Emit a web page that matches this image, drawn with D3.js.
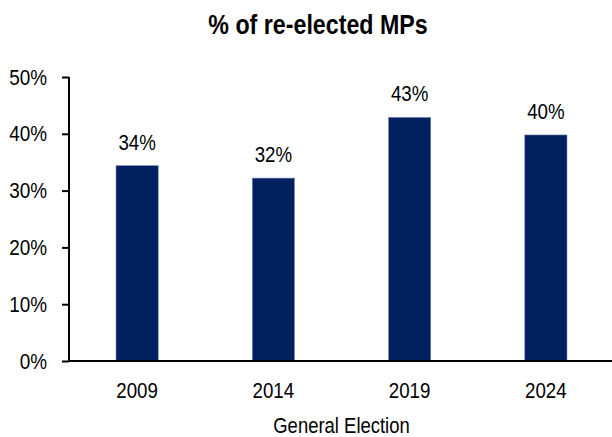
<!DOCTYPE html>
<html>
<head>
<meta charset="utf-8">
<script src="https://cdn.jsdelivr.net/npm/d3@7"></script>
<style>
  body { margin: 0; background: #fff; }
  text { font-family: "Liberation Sans Narrow", "Arial Narrow", "Liberation Sans", Arial, sans-serif; fill: #000; }
</style>
</head>
<body>
<div id="chart"></div>
<script>
// data
let years = ["2009", "2014", "2019", "2024"];
let reelected = [0.344, 0.322, 0.429, 0.398];
let yTicks = [0, 0.1, 0.2, 0.3, 0.4, 0.5];

function getConfig(){
  let width = 612;
  let height = 437;
  let margin = { top: 77, bottom: 76, left: 69, right: -2 };
  let bodyHeight = height - margin.top - margin.bottom;
  let bodyWidth = width - margin.left - margin.right;
  let container = d3.select("#chart").append("svg")
    .attr("width", width)
    .attr("height", height);
  return {width, height, margin, bodyHeight, bodyWidth, container};
}

function getScales(config){
  let {bodyWidth, bodyHeight} = config;
  let xScale = d3.scaleBand()
    .domain(years)
    .range([0, bodyWidth])
    .paddingInner(0.69)
    .paddingOuter(0.345);
  let yScale = d3.scaleLinear()
    .domain([0, 0.5])
    .range([bodyHeight, 0]);
  return {xScale, yScale};
}

// no narrow font installed, so squeeze the text horizontally
function narrow(sel, k){
  sel.each(function(){
    let t = d3.select(this);
    let x = +t.attr("x") || 0;
    let y = +t.attr("y") || 0;
    t.attr("x", 0).attr("y", 0)
     .attr("transform", "translate(" + x + "," + y + ") scale(" + k + ",1)");
  });
}

function drawChart(){
  let config = getConfig();
  let {margin, container, bodyHeight, bodyWidth, width} = config;
  let {xScale, yScale} = getScales(config);
  let data = years.map((y, i) => ({key: y, value: reelected[i]}));

  let body = container.append("g")
    .attr("transform", "translate(" + margin.left + "," + margin.top + ")");

  // bars
  body.selectAll("rect.bar")
    .data(data)
    .enter()
    .append("rect")
      .attr("class", "bar")
      .attr("x", d => xScale(d.key))
      .attr("y", d => yScale(d.value))
      .attr("width", xScale.bandwidth())
      .attr("height", d => bodyHeight - yScale(d.value))
      .attr("fill", "#002060")
      .attr("stroke", "#7f8fb0")
      .attr("stroke-width", 0.6);

  // value labels
  body.selectAll("text.val")
    .data(data)
    .enter()
    .append("text")
      .attr("class", "val")
      .attr("x", d => xScale(d.key) + xScale.bandwidth() / 2)
      .attr("y", d => yScale(d.value) - 16)
      .attr("text-anchor", "middle")
      .style("font-size", "22px")
      .text(d => d3.format(".0%")(d.value))
      .call(narrow, 0.85);

  // y axis
  let yAxis = body.append("g")
    .call(d3.axisLeft(yScale).tickValues(yTicks).tickFormat(d3.format(".0%")).tickSize(7).tickPadding(15));
  yAxis.select(".domain").attr("stroke", "#000").attr("stroke-width", 2).attr("d", "M0,0V" + bodyHeight);
  yAxis.selectAll(".tick line").attr("stroke", "#000").attr("stroke-width", 2);
  yAxis.selectAll("text").style("font-size", "22px").attr("fill", "#000").call(narrow, 0.86);

  // x axis
  let xAxis = body.append("g")
    .attr("transform", "translate(0," + bodyHeight + ")")
    .call(d3.axisBottom(xScale).tickSize(0).tickPadding(21));
  xAxis.select(".domain").attr("stroke", "#000").attr("stroke-width", 2).attr("d", "M0,0H" + bodyWidth);
  xAxis.selectAll("text").style("font-size", "22px").attr("fill", "#000").call(narrow, 0.85);

  // x axis label
  container.append("text")
    .attr("x", margin.left + bodyWidth / 2)
    .attr("y", 433)
    .attr("text-anchor", "middle")
    .style("font-size", "22px")
    .text("General Election")
    .call(narrow, 0.84);

  // title
  container.append("text")
    .attr("x", 318)
    .attr("y", 34)
    .attr("text-anchor", "middle")
    .style("font-size", "27px")
    .style("font-weight", "bold")
    .text("% of re-elected MPs")
    .call(narrow, 0.86);
}

drawChart();
</script>
</body>
</html>
